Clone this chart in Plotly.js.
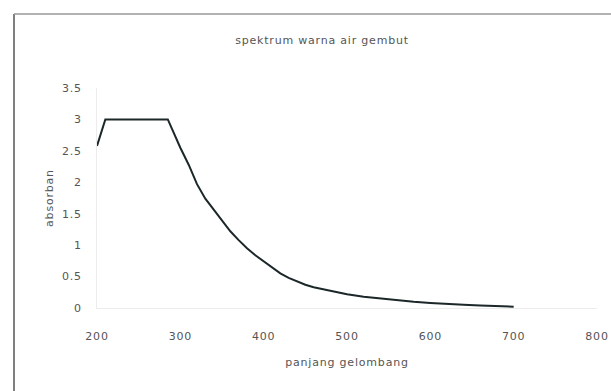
<!DOCTYPE html>
<html>
<head>
<meta charset="utf-8">
<script src="https://cdn.plot.ly/plotly-3.0.1.min.js"></script>
<style>html,body{margin:0;padding:0;background:#fff;}#chart{width:611px;height:391px;}#chart text{letter-spacing:0.8px;}</style>
</head>
<body>
<div id="chart"></div>
<script>
const wavelength = [200,210,220,230,240,250,260,270,280,285,290,300,310,320,330,340,350,360,370,380,390,400,410,420,430,440,450,460,470,480,490,500,520,540,560,580,600,620,640,660,680,700];
const absorbance = [2.58,3.0,3.0,3.0,3.0,3.0,3.0,3.0,3.0,3.0,2.85,2.55,2.28,1.97,1.74,1.56,1.38,1.22,1.08,0.95,0.84,0.74,0.64,0.55,0.48,0.42,0.37,0.33,0.30,0.27,0.24,0.22,0.18,0.15,0.12,0.10,0.08,0.06,0.05,0.04,0.03,0.02];
const xTicks = [200,300,400,500,600,700,800];
const yTicks = [0,0.5,1,1.5,2,2.5,3,3.5];
const yTickText = ['0','0.5','1','1.5','2','2.5','3','3.5'];

const trace = {
  x: wavelength, y: absorbance, type: 'scatter', mode: 'lines',
  line: {color: '#1c2729', width: 2}, hoverinfo: 'skip'
};
const layout = {
  width: 611, height: 391,
  margin: {l: 97, r: 14, t: 88, b: 83},
  paper_bgcolor: '#fff', plot_bgcolor: '#fff',
  font: {family: 'DejaVu Sans, sans-serif', size: 11, color: '#555'},
  showlegend: false,
  title: {text: 'spektrum warna air gembut', x: 0.527, xanchor: 'center', y: 0.898, yanchor: 'middle', font: {size: 11, color: '#555'}},
  xaxis: {
    range: [200, 800], tickvals: xTicks, ticktext: xTicks.map(String),
    showgrid: false, zeroline: false, showline: true, linecolor: '#ececec', linewidth: 1,
    ticks: '', ticklabelstandoff: 18,
    title: {text: 'panjang gelombang', standoff: 16, font: {size: 11, color: '#555'}}
  },
  yaxis: {
    range: [0, 3.5], tickvals: yTicks, ticktext: yTickText,
    showgrid: false, zeroline: false, showline: true, linecolor: '#ececec', linewidth: 1,
    ticks: '', ticklabelstandoff: 12,
    title: {text: 'absorban', standoff: 8, font: {size: 11, color: '#555'}}
  },
  shapes: [
    {type: 'line', xref: 'paper', yref: 'paper', x0: -0.166, x1: -0.166, y0: 1.336, y1: -0.4, line: {color: '#555', width: 1.5}},
    {type: 'line', xref: 'paper', yref: 'paper', x0: -0.166, x1: 1.03, y0: 1.336, y1: 1.336, line: {color: '#999', width: 1.5}}
  ]
};
Plotly.newPlot('chart', [trace], layout, {staticPlot: true, displayModeBar: false});
</script>
</body>
</html>
